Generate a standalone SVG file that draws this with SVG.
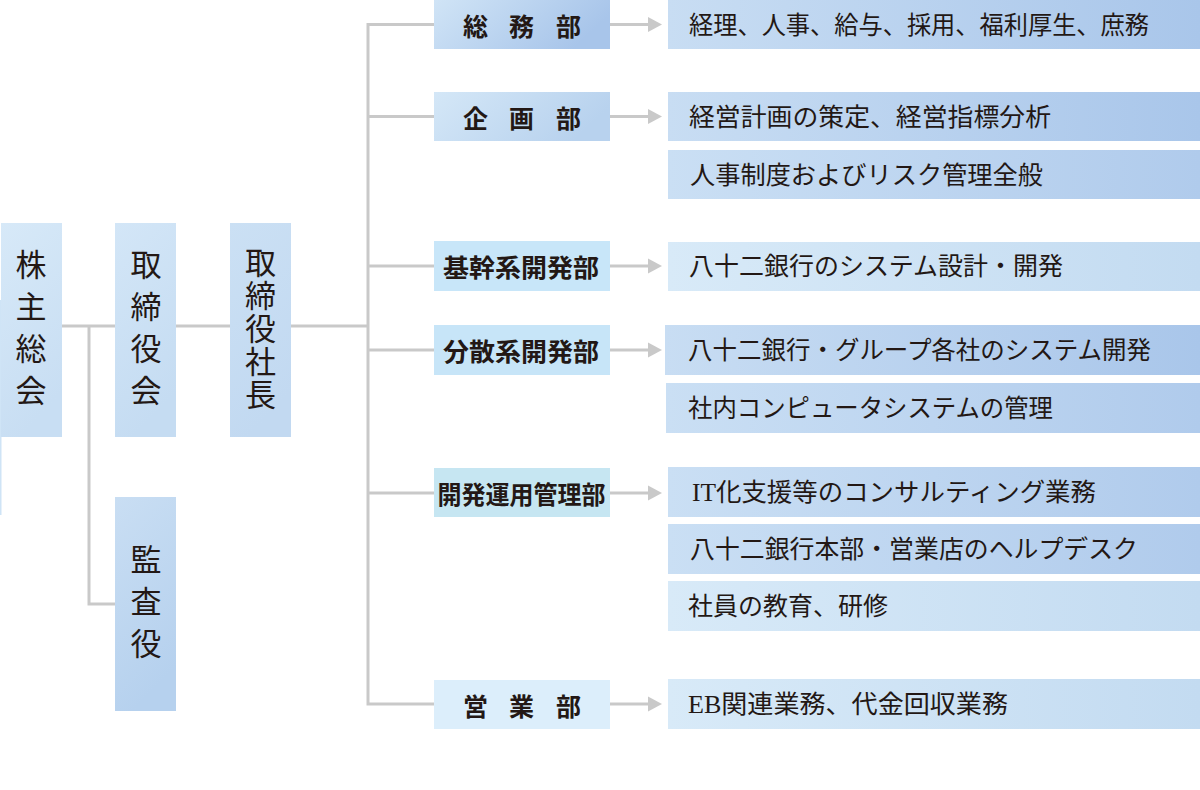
<svg xmlns="http://www.w3.org/2000/svg" width="1200" height="790" viewBox="0 0 1200 790">
<style>
.ln{stroke:#c9c9c9;stroke-width:3;fill:none}
.ah{fill:#c9c9c9}
.vt{font-family:"Noto Sans CJK JP","Noto Sans",sans-serif;font-size:31px;fill:#231815;text-anchor:middle;writing-mode:vertical-rl}
.dp{font-family:"Noto Sans CJK JP","Noto Sans",sans-serif;font-size:25px;font-weight:700;fill:#231815;text-anchor:middle;dominant-baseline:central}
.rt{font-family:"Liberation Serif","Noto Sans CJK JP",serif;font-size:25px;fill:#231815;dominant-baseline:central}
</style>
<defs>
<linearGradient id="gL1" x1="0" y1="0" x2="0.3" y2="1"><stop offset="0" stop-color="#d7e9f8"/><stop offset="1" stop-color="#c8def3"/></linearGradient>
<linearGradient id="gL2" x1="0" y1="0" x2="0.3" y2="1"><stop offset="0" stop-color="#d3e6f7"/><stop offset="1" stop-color="#c5dcf2"/></linearGradient>
<linearGradient id="gL3" x1="0" y1="0" x2="0.3" y2="1"><stop offset="0" stop-color="#cbe0f4"/><stop offset="1" stop-color="#c2d9f1"/></linearGradient>
<linearGradient id="gL4" x1="0" y1="0" x2="0.3" y2="1"><stop offset="0" stop-color="#c9def3"/><stop offset="1" stop-color="#b6d1ee"/></linearGradient>
<linearGradient id="gD1" x1="0" y1="0" x2="1" y2="0.3"><stop offset="0" stop-color="#d0e4f6"/><stop offset="1" stop-color="#a8c5ea"/></linearGradient>
<linearGradient id="gD2" x1="0" y1="0" x2="1" y2="0.3"><stop offset="0" stop-color="#d4e7f7"/><stop offset="1" stop-color="#b8d2ee"/></linearGradient>
<linearGradient id="gR1" x1="0" y1="0" x2="1" y2="0"><stop offset="0" stop-color="#c8ddf3"/><stop offset="1" stop-color="#a9c6ea"/></linearGradient>
<linearGradient id="gR2" x1="0" y1="0" x2="1" y2="0"><stop offset="0" stop-color="#cadff4"/><stop offset="1" stop-color="#b0cbec"/></linearGradient>
<linearGradient id="gR3" x1="0" y1="0" x2="1" y2="0"><stop offset="0" stop-color="#d8eaf8"/><stop offset="1" stop-color="#c3dbf1"/></linearGradient>
</defs>

<rect x="0" y="300" width="1.5" height="215" fill="#cfe4f6"/>

<g id="connectors">
<polyline class="ln" points="62,326 115,326"/>
<polyline class="ln" points="176,326 230,326"/>
<polyline class="ln" points="291,326 368,326"/>
<polyline class="ln" points="89,326 89,604 115,604"/>
<polyline class="ln" points="434,24.5 368,24.5 368,704 434,704"/>
<polyline class="ln" points="368,116.5 434,116.5"/>
<polyline class="ln" points="368,266 434,266"/>
<polyline class="ln" points="368,350 434,350"/>
<polyline class="ln" points="368,493 434,493"/>
<g>
<line class="ln" x1="610" y1="24.5" x2="650" y2="24.5"/><polygon class="ah" points="648,17 662,24.5 648,32"/>
<line class="ln" x1="610" y1="116.5" x2="650" y2="116.5"/><polygon class="ah" points="648,109 662,116.5 648,124"/>
<line class="ln" x1="610" y1="266" x2="650" y2="266"/><polygon class="ah" points="648,258.5 662,266 648,273.5"/>
<line class="ln" x1="610" y1="350" x2="650" y2="350"/><polygon class="ah" points="648,342.5 662,350 648,357.5"/>
<line class="ln" x1="610" y1="493" x2="650" y2="493"/><polygon class="ah" points="648,485.5 662,493 648,500.5"/>
<line class="ln" x1="610" y1="704" x2="650" y2="704"/><polygon class="ah" points="648,696.5 662,704 648,711.5"/>
</g>
</g>

<g id="kabunushi">
<rect x="1" y="223" width="61" height="214" fill="url(#gL1)"/>
<text class="vt" x="31" y="333" letter-spacing="11">株主総会</text>
</g>
<g id="torishimariyakukai">
<rect x="115" y="223" width="61" height="214" fill="url(#gL2)"/>
<text class="vt" x="146" y="333" letter-spacing="11">取締役会</text>
</g>
<g id="shacho">
<rect x="230" y="223" width="61" height="214" fill="url(#gL3)"/>
<text class="vt" x="260.5" y="329" letter-spacing="2">取締役社長</text>
</g>
<g id="kansayaku">
<rect x="115" y="497" width="61" height="214" fill="url(#gL4)"/>
<text class="vt" x="146" y="606.5" letter-spacing="11">監査役</text>
</g>

<g id="somubu">
<rect x="434" y="0" width="176" height="49" fill="url(#gD1)"/>
<text class="dp" x="475.5 521.5 568.5" y="25">総務部</text>
</g>
<g id="kikakubu">
<rect x="434" y="92" width="176" height="49" fill="url(#gD2)"/>
<text class="dp" x="475.5 521.5 568.5" y="117">企画部</text>
</g>
<g id="kikan">
<rect x="434" y="241" width="176" height="50" fill="#c8e6f9"/>
<text class="dp" x="521" y="266" textLength="156" lengthAdjust="spacingAndGlyphs">基幹系開発部</text>
</g>
<g id="bunsan">
<rect x="434" y="325" width="176" height="50" fill="#c7e5f8"/>
<text class="dp" x="521" y="350" textLength="156" lengthAdjust="spacingAndGlyphs">分散系開発部</text>
</g>
<g id="kaihatsu">
<rect x="434" y="468" width="176" height="49" fill="#c6e6f2"/>
<text class="dp" x="521.5" y="493" textLength="168" lengthAdjust="spacingAndGlyphs">開発運用管理部</text>
</g>
<g id="eigyo">
<rect x="434" y="680" width="176" height="49" fill="#dceefb"/>
<text class="dp" x="475.5 521.5 568.5" y="704.5">営業部</text>
</g>

<g id="r1"><rect x="668" y="0" width="532" height="49" fill="url(#gR1)"/><text class="rt" x="689" y="25" textLength="460" lengthAdjust="spacingAndGlyphs">経理、人事、給与、採用、福利厚生、庶務</text></g>
<g id="r2"><rect x="668" y="92" width="532" height="49" fill="url(#gR1)"/><text class="rt" x="689" y="117" textLength="362" lengthAdjust="spacingAndGlyphs">経営計画の策定、経営指標分析</text></g>
<g id="r3"><rect x="668" y="150" width="532" height="49" fill="url(#gR2)"/><text class="rt" x="690" y="175" textLength="353" lengthAdjust="spacingAndGlyphs">人事制度およびリスク管理全般</text></g>
<g id="r4"><rect x="668" y="242" width="532" height="49" fill="url(#gR3)"/><text class="rt" x="689" y="266.5" textLength="374" lengthAdjust="spacingAndGlyphs">八十二銀行のシステム設計・開発</text></g>
<g id="r5"><rect x="665" y="325" width="535" height="50" fill="url(#gR1)"/><text class="rt" x="688" y="350" textLength="463" lengthAdjust="spacingAndGlyphs">八十二銀行・グループ各社のシステム開発</text></g>
<g id="r6"><rect x="666" y="383" width="534" height="50" fill="url(#gR2)"/><text class="rt" x="688" y="408" textLength="365" lengthAdjust="spacingAndGlyphs">社内コンピュータシステムの管理</text></g>
<g id="r7"><rect x="668" y="467" width="532" height="50" fill="url(#gR2)"/><text class="rt" x="692" y="492" textLength="404" lengthAdjust="spacingAndGlyphs">IT化支援等のコンサルティング業務</text></g>
<g id="r8"><rect x="668" y="524" width="532" height="50" fill="url(#gR2)"/><text class="rt" x="690" y="549" textLength="448" lengthAdjust="spacingAndGlyphs">八十二銀行本部・営業店のヘルプデスク</text></g>
<g id="r9"><rect x="668" y="581" width="532" height="50" fill="url(#gR3)"/><text class="rt" x="688" y="606" textLength="200" lengthAdjust="spacingAndGlyphs">社員の教育、研修</text></g>
<g id="r10"><rect x="668" y="679" width="532" height="50" fill="url(#gR3)"/><text class="rt" x="688" y="704" textLength="320" lengthAdjust="spacingAndGlyphs">EB関連業務、代金回収業務</text></g>
</svg>
